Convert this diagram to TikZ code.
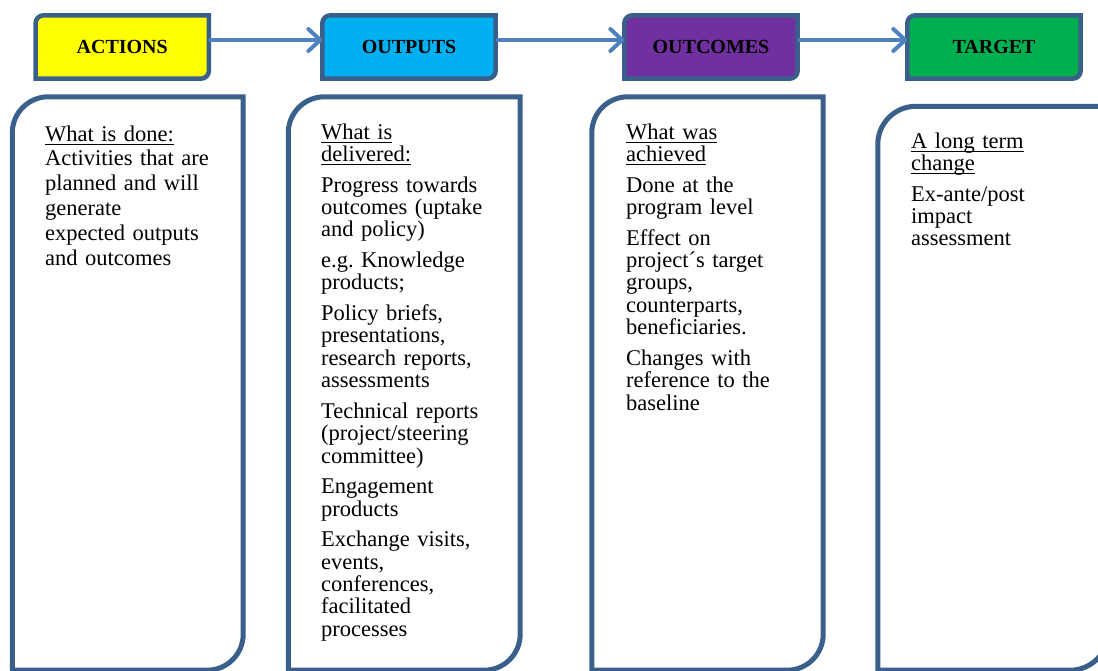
\documentclass[tikz,border=0pt]{standalone}
\usepackage{fontspec}
\setmainfont{Liberation Serif}
\usetikzlibrary{arrows.meta,backgrounds,calc}
\definecolor{framec}{HTML}{3A5F8B}
\definecolor{arrowc}{HTML}{4F81BD}
\definecolor{yellowc}{HTML}{FFFF00}
\definecolor{cyanc}{HTML}{00B0F0}
\definecolor{purplec}{HTML}{7030A0}
\definecolor{greenc}{HTML}{00B050}
\frenchspacing
\newsavebox\ulbox
\newcommand\myul[1]{\leavevmode\sbox\ulbox{#1}\rlap{\rule[-3.9pt]{\wd\ulbox}{1.3pt}}\usebox\ulbox}
% round-diagonal-corner frame around a named node: #1 node, #2 radius (pt), #3 style
\newcommand\diagframe[3]{%
  \path[#3] (#1.south west) -- ([yshift=-#2pt]#1.north west)
    .. controls ([yshift=-0.4477*#2pt]#1.north west) and ([xshift=0.4477*#2pt]#1.north west) .. ([xshift=#2pt]#1.north west)
    -- (#1.north east) -- ([yshift=#2pt]#1.south east)
    .. controls ([yshift=0.4477*#2pt]#1.south east) and ([xshift=-0.4477*#2pt]#1.south east) .. ([xshift=-#2pt]#1.south east)
    -- cycle;}
\begin{document}
\begin{tikzpicture}[x=1pt,y=-1pt,
  hdr/.style={minimum width=173pt, minimum height=63pt, inner sep=0pt,
    font=\fontsize{20}{22}\selectfont\bfseries},
  big/.style={minimum width=231pt, inner sep=0pt},
  bigline/.style={draw=framec, line width=5pt, fill=white},
  hdrline/.style={draw=framec, line width=4.5pt},
  flow/.style={draw=arrowc, line width=4pt,
    -{Straight Barb[length=12pt,width=22pt,round]}},
  body/.style={anchor=base west, inner sep=0pt, text width=200pt, align=left,
    font=\fontsize{22.5}{22.4}\selectfont}]
\useasboundingbox (0,0) rectangle (1098,670);
\clip (0,0) rectangle (1098,670);

% header boxes
\node[hdr] (act) at (122.25,47) {ACTIONS};
\node[hdr] (out) at (409,47) {OUTPUTS};
\node[hdr] (ocm) at (711,47) {OUTCOMES};
\node[hdr] (tgt) at (994,47) {TARGET};

% large boxes
\node[big, minimum width=230.5pt, minimum height=573pt] (b1) at (127.75,383.5) {};
\node[big, minimum width=231.5pt, minimum height=573pt] (b2) at (404.25,383.5) {};
\node[big, minimum width=231pt, minimum height=573pt] (b3) at (707.5,383.5) {};
\node[big, minimum width=230pt, minimum height=563.5pt] (b4) at (993,388.25) {};

\begin{pgfonlayer}{background}
  \diagframe{act}{8}{hdrline,fill=yellowc}
  \diagframe{out}{8}{hdrline,fill=cyanc}
  \diagframe{ocm}{8}{hdrline,fill=purplec}
  \diagframe{tgt}{8}{hdrline,fill=greenc}
  \diagframe{b1}{36}{bigline}
  \diagframe{b2}{36}{bigline}
  \diagframe{b3}{36}{bigline}
  \diagframe{b4}{38}{bigline}
\end{pgfonlayer}

% connectors
\draw[flow] ([yshift=7pt]act.east) -- ([yshift=7pt]out.west);
\draw[flow] ([yshift=7pt]out.east) -- ([yshift=7pt]ocm.west);
\draw[flow] ([yshift=7pt]ocm.east) -- ([yshift=7pt]tgt.west);

% texts
\node[body, font=\fontsize{22.5}{24.8}\selectfont] (t1) at (45,141)
  {\myul{What is done:}\\ Activities that are\\ planned and will\\ generate\\ expected outputs\\ and outcomes};
\node[body] (t2) at (321,139)
  {\myul{What is}\\ \myul{delivered:}\\[8.2pt]
   Progress towards\\ outcomes (uptake\\ and policy)\\[8.2pt]
   e.g. Knowledge\\ products;\\[8.2pt]
   Policy briefs,\\ presentations,\\ research reports,\\ assessments\\[8.2pt]
   Technical reports\\ (project/steering\\ committee)\\[8.2pt]
   Engagement\\ products\\[8.2pt]
   Exchange visits,\\ events,\\ conferences,\\ facilitated\\ processes};
\node[body] (t3) at (626,139)
  {\myul{What was}\\ \myul{achieved}\\[8.2pt]
   Done at the\\ program level\\[8.2pt]
   Effect on\\ project´s target\\ groups,\\ counterparts,\\ beneficiaries.\\[8.2pt]
   Changes with\\ reference to the\\ baseline};
\node[body] (t4) at (911,148)
  {\myul{A long term}\\ \myul{change}\\[8.2pt]
   Ex-ante/post\\ impact\\ assessment};
\end{tikzpicture}
\end{document}
